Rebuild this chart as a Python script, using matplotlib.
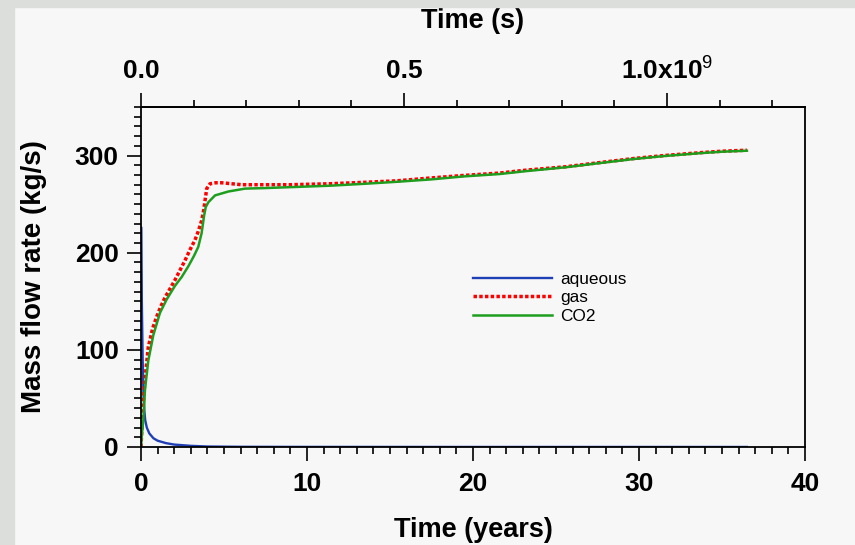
import matplotlib
matplotlib.use("Agg")
import matplotlib.pyplot as plt
from matplotlib.patches import Rectangle
from matplotlib.ticker import MultipleLocator, FixedLocator

plt.rcParams['font.family'] = ['Liberation Sans', 'DejaVu Sans']
plt.rcParams['mathtext.fontset'] = 'custom'
plt.rcParams['mathtext.rm'] = 'Liberation Sans'
plt.rcParams['mathtext.bf'] = 'Liberation Sans:bold'

# data (time in years, mass flow in kg/s)
t_aq = [0.0, 0.02, 0.05, 0.1, 0.15, 0.2, 0.25, 0.35, 0.5, 0.75, 1.0, 1.5, 2.0, 3.0, 4.0, 6.0, 10.0, 20.0, 36.5]
v_aq = [226, 226, 150, 90, 55, 38, 28, 20, 14, 9, 6.5, 4, 2.5, 1.2, 0.5, 0.2, 0.1, 0.05, 0.03]

t_gas = [0, 0.05, 0.14, 0.24, 0.44, 0.7, 0.94, 1.2, 1.45, 1.75, 2.05, 2.35, 2.65, 2.95, 3.25, 3.45, 3.65,
         3.78, 3.86, 3.96, 4.16, 4.5, 4.86, 6.07, 7.37, 9, 11.4, 13.5, 15.4, 17.5, 19.4, 21.6, 23.2,
         25.6, 27.5, 29.7, 31.5, 33.7, 35, 36.5]
v_gas = [0, 18, 45, 70, 103, 122, 134, 145, 154, 163, 172, 182, 192, 203, 213, 222, 233,
         244, 254, 266, 271, 272, 272, 270, 270, 270, 271, 272.5, 274, 277, 279.5, 282, 285,
         288.5, 292.5, 297, 300, 303, 304.5, 305.5]

t_co2 = [0, 0.05, 0.14, 0.24, 0.44, 0.74, 1.14, 1.55, 1.8, 2.05, 2.45, 2.85, 3.2, 3.45, 3.65, 3.8, 3.9,
         4.06, 4.46, 5.26, 6.27, 7.4, 9, 11.4, 13.5, 15.4, 17.5, 19.4, 21.6, 23.2, 25.6, 27.5,
         29.7, 31.5, 33.7, 35, 36.5]
v_co2 = [0, 12, 28, 59, 89, 115, 138, 152, 159, 166, 175, 186, 197, 206, 220, 238, 247,
         252, 259, 263, 266, 266.5, 267.5, 269, 271, 273, 275.5, 278.5, 281, 284, 288, 292,
         296.5, 299.5, 302.5, 304, 305]

SEC_PER_YEAR = 3.156e7
bg = '#f7f7f7'

fig = plt.figure(figsize=(8.55, 5.45), dpi=100, facecolor=bg)
# gray frame strips (left and top)
fig.patches.append(Rectangle((0, 0), 14 / 855, 1, transform=fig.transFigure, color='#dcdedc', zorder=0))
fig.patches.append(Rectangle((0, 1 - 7 / 545), 1, 7 / 545, transform=fig.transFigure, color='#dcdedc', zorder=0))

ax = fig.add_axes([141 / 855, 1 - 447 / 545, 664 / 855, 340 / 545], facecolor=bg)

ax.plot(t_aq, v_aq, color='#1f3fb5', lw=1.7, label='aqueous')
ax.plot(t_gas, v_gas, color='#ff0000', lw=2.5, dashes=(1, 0.65), dash_capstyle='butt', label='gas')
ax.plot(t_co2, v_co2, color='#1e9e1e', lw=1.8, label='CO2')

ax.set_xlim(0, 40)
ax.set_ylim(0, 350)
ax.xaxis.set_major_locator(MultipleLocator(10))
ax.xaxis.set_minor_locator(MultipleLocator(1))
ax.yaxis.set_major_locator(MultipleLocator(100))
ax.yaxis.set_minor_locator(MultipleLocator(10))

for s in ax.spines.values():
    s.set_linewidth(1.3)
ax.tick_params(which='major', direction='out', length=10, width=1.2, labelsize=19, pad=6)
ax.tick_params(which='minor', direction='out', length=5, width=1.2)
ax.tick_params(axis='x', which='major', pad=8)
for lab in ax.get_xticklabels() + ax.get_yticklabels():
    lab.set_fontweight('bold')

ax.set_xlabel('Time (years)', fontsize=19.5, fontweight='bold', labelpad=15)
ax.set_ylabel('Mass flow rate (kg/s)', fontsize=20, fontweight='bold', labelpad=20)

# top axis in seconds
top = ax.secondary_xaxis('top', functions=(lambda y: y * SEC_PER_YEAR, lambda s: s / SEC_PER_YEAR))
top.xaxis.set_major_locator(FixedLocator([0, 0.5e9, 1.0e9]))
top.xaxis.set_minor_locator(MultipleLocator(1e8))
top.set_xticklabels(['0.0', '0.5', r'1.0x10$^{9}$'], fontsize=19, fontweight='bold')
top.tick_params(which='major', direction='out', length=10, width=1.2, pad=7)
top.tick_params(which='minor', direction='out', length=5, width=1.2)
top.spines['top'].set_linewidth(1.3)
top.set_xlabel('Time (s)', fontsize=19.5, fontweight='bold', labelpad=20)

ax.legend(loc='upper left', bbox_to_anchor=(0.5, 0.514), frameon=False, fontsize=12.4,
          handlelength=4.6, labelspacing=0.18, handletextpad=0.45, borderpad=0, borderaxespad=0)

fig.savefig('out.png', dpi=100, facecolor=bg)
